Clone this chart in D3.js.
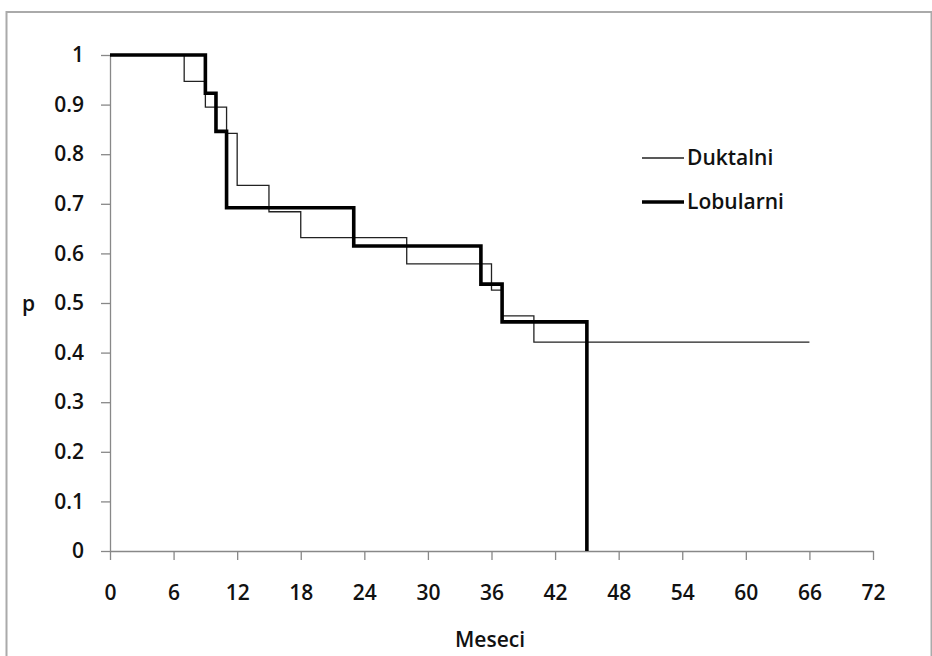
<!DOCTYPE html>
<html>
<head>
<meta charset="utf-8">
<script src="https://cdn.jsdelivr.net/npm/d3@7"></script>
<style>
    body { margin: 0; background: #fff; }
    text { font-family: 'Open Sans', sans-serif; font-weight: 600; fill: #111; }
</style>
</head>
<body>
<div id="chart"></div>
<script>
// survival curves, months vs p
var duktalniMonths = [0, 7, 9, 11, 12, 15, 18, 28, 36, 37, 40, 66];
var duktalniP = [1, 0.947, 0.895, 0.842, 0.737, 0.684, 0.632, 0.579, 0.526, 0.474, 0.421, 0.421];
var lobularniMonths = [0, 9, 10, 11, 23, 35, 37, 45];
var lobularniP = [1, 0.923, 0.846, 0.692, 0.615, 0.538, 0.462, 0];

var xTicks = [0, 6, 12, 18, 24, 30, 36, 42, 48, 54, 60, 66, 72];
var yTicks = [0, 0.1, 0.2, 0.3, 0.4, 0.5, 0.6, 0.7, 0.8, 0.9, 1];
var seriesNames = ['Duktalni', 'Lobularni'];

var width = 932, height = 656;
var svg = d3.select('#chart')
    .append('svg')
    .attr('width', width)
    .attr('height', height);

// outer chart border
svg.append('rect')
    .attr('x', 6.5).attr('y', 12)
    .attr('width', 925).attr('height', 700)
    .attr('fill', 'none')
    .attr('stroke', '#aaa')
    .attr('stroke-width', 2);

var x = d3.scaleLinear().domain([0, 72]).range([110, 873]);
var y = d3.scaleLinear().domain([0, 1]).range([551, 55]);

// axes
var xAxis = svg.append('g')
    .attr('transform', 'translate(0,551)')
    .call(d3.axisBottom(x).tickValues(xTicks).tickSize(9).tickPadding(25).tickSizeOuter(0));
var yAxis = svg.append('g')
    .attr('transform', 'translate(110,0)')
    .call(d3.axisLeft(y).tickValues(yTicks).tickSize(9).tickPadding(17).tickSizeOuter(0)
        .tickFormat(function (d) { return d3.format('')(d); }));

[xAxis, yAxis].forEach(function (a) {
    a.selectAll('path, line').attr('stroke', '#888').attr('stroke-width', 1.3);
    a.selectAll('text')
        .attr('font-size', 21)
        .attr('font-family', null)
        .attr('fill', '#111');
});

// axis titles
svg.append('text')
    .attr('x', 490).attr('y', 647)
    .attr('text-anchor', 'middle')
    .attr('font-size', 21)
    .text('Meseci');
svg.append('text')
    .attr('x', 22).attr('y', 311)
    .attr('font-size', 21)
    .text('p');

// step lines
var line = d3.line()
    .x(function (d) { return x(d[0]); })
    .y(function (d) { return y(d[1]); })
    .curve(d3.curveStepAfter);

svg.append('path')
    .datum(d3.zip(duktalniMonths, duktalniP))
    .attr('d', line)
    .attr('fill', 'none')
    .attr('stroke', '#222')
    .attr('stroke-width', 1.3);

svg.append('path')
    .datum(d3.zip(lobularniMonths, lobularniP))
    .attr('d', line)
    .attr('fill', 'none')
    .attr('stroke', '#000')
    .attr('stroke-width', 3.6);

// legend
var legend = svg.append('g');
seriesNames.forEach(function (name, i) {
    var ly = 158 + i * 44;
    legend.append('line')
        .attr('x1', 642).attr('x2', 684)
        .attr('y1', ly).attr('y2', ly)
        .attr('stroke', i ? '#000' : '#222')
        .attr('stroke-width', i ? 3.6 : 1.3);
    legend.append('text')
        .attr('x', 687).attr('y', ly + 7)
        .attr('font-size', 21)
        .text(name);
});
</script>
</body>
</html>
